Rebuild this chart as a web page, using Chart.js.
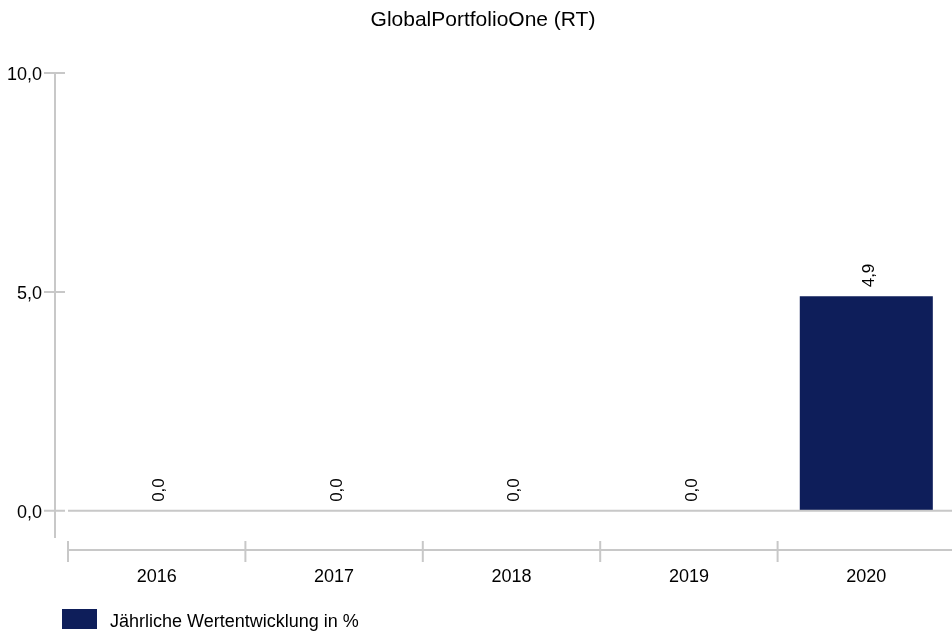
<!DOCTYPE html>
<html>
<head>
<meta charset="utf-8">
<script src="https://cdn.jsdelivr.net/npm/chart.js@4.4.0/dist/chart.umd.min.js"></script>
<style>
  html, body { margin: 0; padding: 0; background: #fff; overflow: hidden; }
  #wrap { width: 955px; height: 632px; }
</style>
</head>
<body>
<div id="wrap"><canvas id="chart"></canvas></div>
<script>
// Daten
const years = ['2016', '2017', '2018', '2019', '2020'];
const performance = [0.0, 0.0, 0.0, 0.0, 4.9];
const yTicks = [0, 5, 10];
const chartTitle = 'GlobalPortfolioOne (RT)';
const seriesLabel = 'Jährliche Wertentwicklung in %';

const barColor = '#0e1e5a';
const lineColor = '#c8c8c8';
const fontFamily = '"Liberation Sans", Arial, sans-serif';

const fmt = v => v.toFixed(1).replace('.', ',');

// Titel, Achsenlinien, Teilstriche, Werte und Legende
const decorations = {
    id: 'decorations',
    afterDatasetsDraw(chart) {
        const ctx = chart.ctx;
        const area = chart.chartArea;
        const x = chart.scales.x;
        const y = chart.scales.y;
        ctx.save();

        // Titel
        ctx.fillStyle = '#000';
        ctx.font = '21px ' + fontFamily;
        ctx.textAlign = 'center';
        ctx.textBaseline = 'middle';
        ctx.fillText(chartTitle, 483, 20);

        ctx.strokeStyle = lineColor;
        ctx.lineWidth = 2;

        // y-Achse
        const ax = area.left - 13;
        ctx.beginPath();
        ctx.moveTo(ax, area.top);
        ctx.lineTo(ax, area.bottom);
        yTicks.forEach(v => {
            const py = y.getPixelForValue(v);
            ctx.moveTo(ax - 11, py);
            ctx.lineTo(ax + 10, py);
        });
        // Nulllinie
        const y0 = y.getPixelForValue(0);
        ctx.moveTo(area.left, y0);
        ctx.lineTo(chart.width, y0);
        // x-Achse
        const bx = area.bottom + 12;
        ctx.moveTo(area.left, bx);
        ctx.lineTo(chart.width, bx);
        const step = x.getPixelForValue(1) - x.getPixelForValue(0);
        years.forEach((yr, i) => {
            const px = x.getPixelForValue(i) - step / 2;
            ctx.moveTo(px, bx - 9);
            ctx.lineTo(px, bx + 12);
        });
        ctx.stroke();

        // Werte über den Balken
        ctx.fillStyle = '#000';
        ctx.font = '17px ' + fontFamily;
        ctx.textAlign = 'left';
        ctx.textBaseline = 'middle';
        const meta = chart.getDatasetMeta(0);
        meta.data.forEach((bar, i) => {
            ctx.save();
            ctx.translate(bar.x + 3, bar.y - 9);
            ctx.rotate(-Math.PI / 2);
            ctx.fillText(fmt(performance[i]), 0, 0);
            ctx.restore();
        });

        // Legende
        const ds = chart.data.datasets[0];
        ctx.fillStyle = ds.backgroundColor;
        ctx.fillRect(62, 609, 35, 20);
        ctx.fillStyle = '#000';
        ctx.font = '18px ' + fontFamily;
        ctx.fillText(ds.label, 110, 622);
        ctx.restore();
    }
};

new Chart(document.getElementById('chart'), {
    type: 'bar',
    data: {
        labels: years,
        datasets: [{
            label: seriesLabel,
            data: performance,
            backgroundColor: barColor,
            borderWidth: 0,
            categoryPercentage: 0.75,
            barPercentage: 1
        }]
    },
    options: {
        responsive: true,
        maintainAspectRatio: false,
        animation: false,
        layout: { padding: { left: 0, right: 0, top: 73, bottom: 44 } },
        plugins: {
            legend: { display: false },
            tooltip: { enabled: false },
            title: { display: false }
        },
        scales: {
            x: {
                grid: { display: false, drawTicks: false },
                border: { display: false },
                ticks: {
                    color: '#000',
                    padding: 28,
                    maxRotation: 0,
                    font: { family: fontFamily, size: 18 }
                },
                afterFit: s => { s.height = 50; }
            },
            y: {
                min: -0.62,
                max: 10,
                grid: { display: false, drawTicks: false },
                border: { display: false },
                afterBuildTicks: s => { s.ticks = yTicks.map(v => ({ value: v })); },
                ticks: {
                    color: '#000',
                    padding: 26,
                    labelOffset: 2,
                    font: { family: fontFamily, size: 18 },
                    callback: v => fmt(v)
                },
                afterFit: s => { s.width = 68; }
            }
        }
    },
    plugins: [decorations]
});
</script>
</body>
</html>
